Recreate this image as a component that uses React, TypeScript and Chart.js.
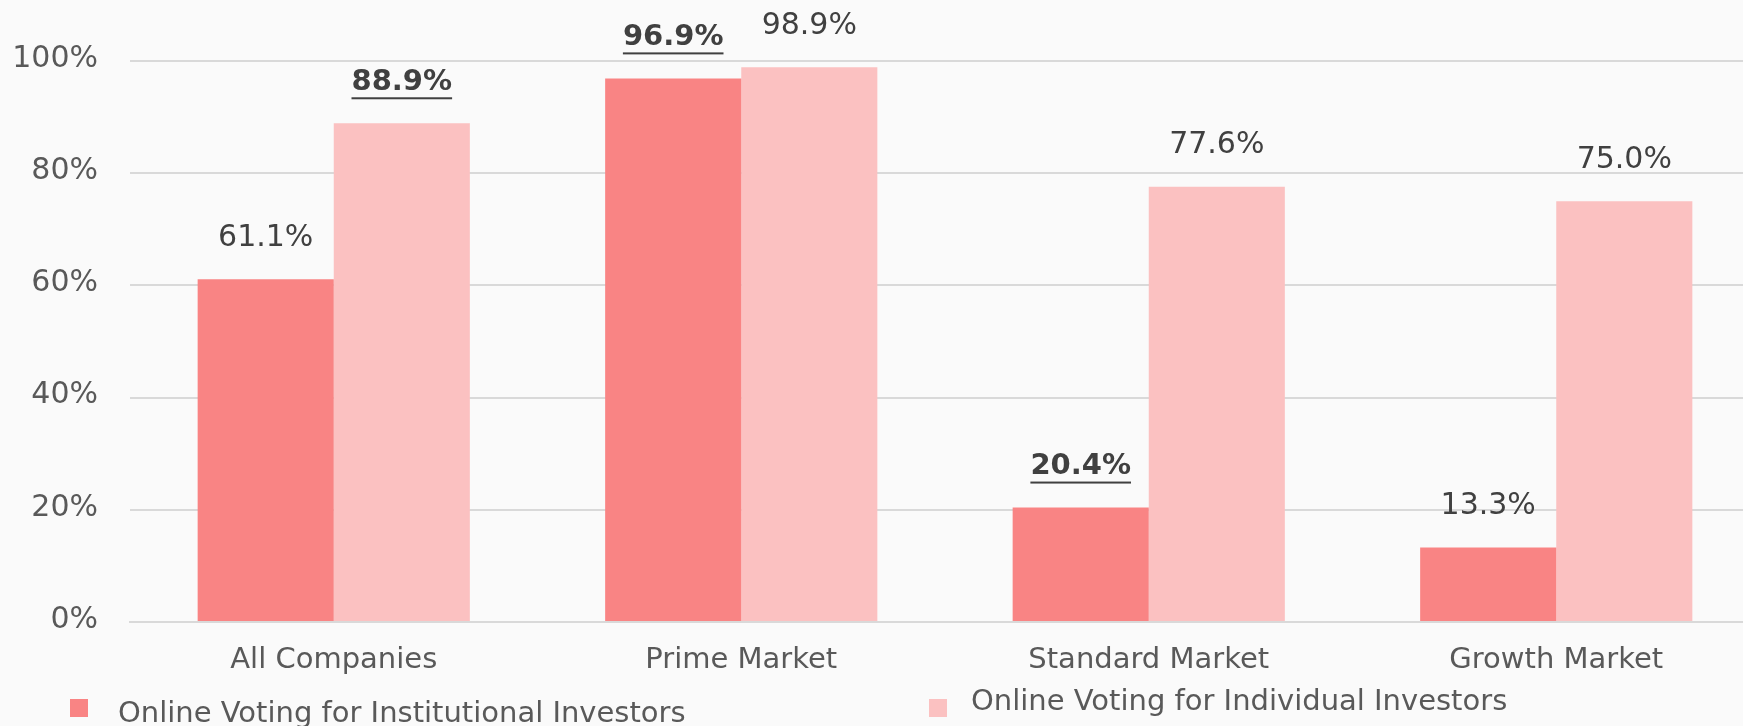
import React, { useEffect, useRef } from "react";
import { Chart, registerables } from "chart.js";

Chart.register(...registerables);

const categories = ["All Companies", "Prime Market", "Standard Market", "Growth Market"];
const institutional = [61.1, 96.9, 20.4, 13.3];
const individual = [88.9, 98.9, 77.6, 75.0];
const institutionalBold = [false, true, true, false];
const individualBold = [true, false, false, false];
const seriesLabels = ["Online Voting for Institutional Investors", "Online Voting for Individual Investors"];
const yTicks = [0, 20, 40, 60, 80, 100];

const COLOR_INST = "#F98484";
const COLOR_IND = "#FBC1C1";
const FONT = "'DejaVu Sans', Verdana, sans-serif";

const labelPlugin = {
  id: "valueLabels",
  afterDatasetsDraw(chart: any) {
    const ctx = chart.ctx;
    const bolds = [institutionalBold, individualBold];
    chart.data.datasets.forEach((ds: any, di: number) => {
      const meta = chart.getDatasetMeta(di);
      meta.data.forEach((bar: any, i: number) => {
        const v = ds.data[i];
        const text = v.toFixed(1) + "%";
        const bold = bolds[di][i];
        ctx.save();
        ctx.font = (bold ? "bold " : "") + (bold ? "29px " : "30px ") + FONT;
        ctx.fillStyle = "#404040";
        ctx.textAlign = "center";
        ctx.textBaseline = "middle";
        const y = bar.y - 41;
        ctx.fillText(text, bar.x, y);
        if (bold) {
          const w = ctx.measureText(text).width;
          ctx.fillRect(bar.x - w / 2, y + 15, w, 2);
        }
        ctx.restore();
      });
    });
  },
};

const legendPlugin = {
  id: "customLegend",
  afterDraw(chart: any) {
    const ctx = chart.ctx;
    const items = [
      { box: [70, 699], text: [118, 714], color: COLOR_INST },
      { box: [929, 699], text: [971, 702], color: COLOR_IND },
    ];
    items.forEach((it, i) => {
      ctx.save();
      ctx.fillStyle = it.color;
      ctx.fillRect(it.box[0], it.box[1], 18, 18);
      ctx.font = "29px " + FONT;
      ctx.fillStyle = "#595959";
      ctx.textAlign = "left";
      ctx.textBaseline = "middle";
      ctx.fillText(chart.data.datasets[i].label, it.text[0], it.text[1]);
      ctx.restore();
    });
  },
};

export default function App() {
  const ref = useRef<HTMLCanvasElement>(null);
  useEffect(() => {
    document.body.style.margin = "0";
    document.body.style.overflow = "hidden";
    document.body.style.background = "#FAFAFA";
    const chart = new Chart(ref.current!, {
      type: "bar",
      data: {
        labels: categories,
        datasets: [
          { label: seriesLabels[0], data: institutional, backgroundColor: COLOR_INST, barPercentage: 1, categoryPercentage: 0.668 },
          { label: seriesLabels[1], data: individual, backgroundColor: COLOR_IND, barPercentage: 1, categoryPercentage: 0.668 },
        ],
      },
      options: {
        responsive: false,
        animation: false,
        devicePixelRatio: 1,
        layout: { padding: { top: 61, right: 10, left: 0, bottom: 0 } },
        plugins: { legend: { display: false }, tooltip: { enabled: false } },
        scales: {
          x: {
            grid: { display: false, drawTicks: false },
            border: { display: true, color: "#D9D9D9", width: 2 },
            ticks: { color: "#595959", font: { family: FONT, size: 29 }, padding: 21 },
            afterFit: (s: any) => { s.height = 104; },
          },
          y: {
            min: 0,
            max: 100,
            afterBuildTicks: (s: any) => { s.ticks = yTicks.map((v) => ({ value: v })); },
            grid: { color: "#D9D9D9", lineWidth: 2, drawTicks: false },
            border: { display: false },
            ticks: {
              color: "#595959",
              font: { family: FONT, size: 30 },
              padding: 32,
              labelOffset: -2,
              callback: (v: any) => v + "%",
            },
            afterFit: (s: any) => { s.width = 130; },
          },
        },
      },
      plugins: [labelPlugin, legendPlugin],
    });
    return () => chart.destroy();
  }, []);
  return (
    <div style={{ width: 1770, height: 726, background: "#FAFAFA" }}>
      <canvas ref={ref} width={1770} height={726} style={{ display: "block" }} />
    </div>
  );
}
